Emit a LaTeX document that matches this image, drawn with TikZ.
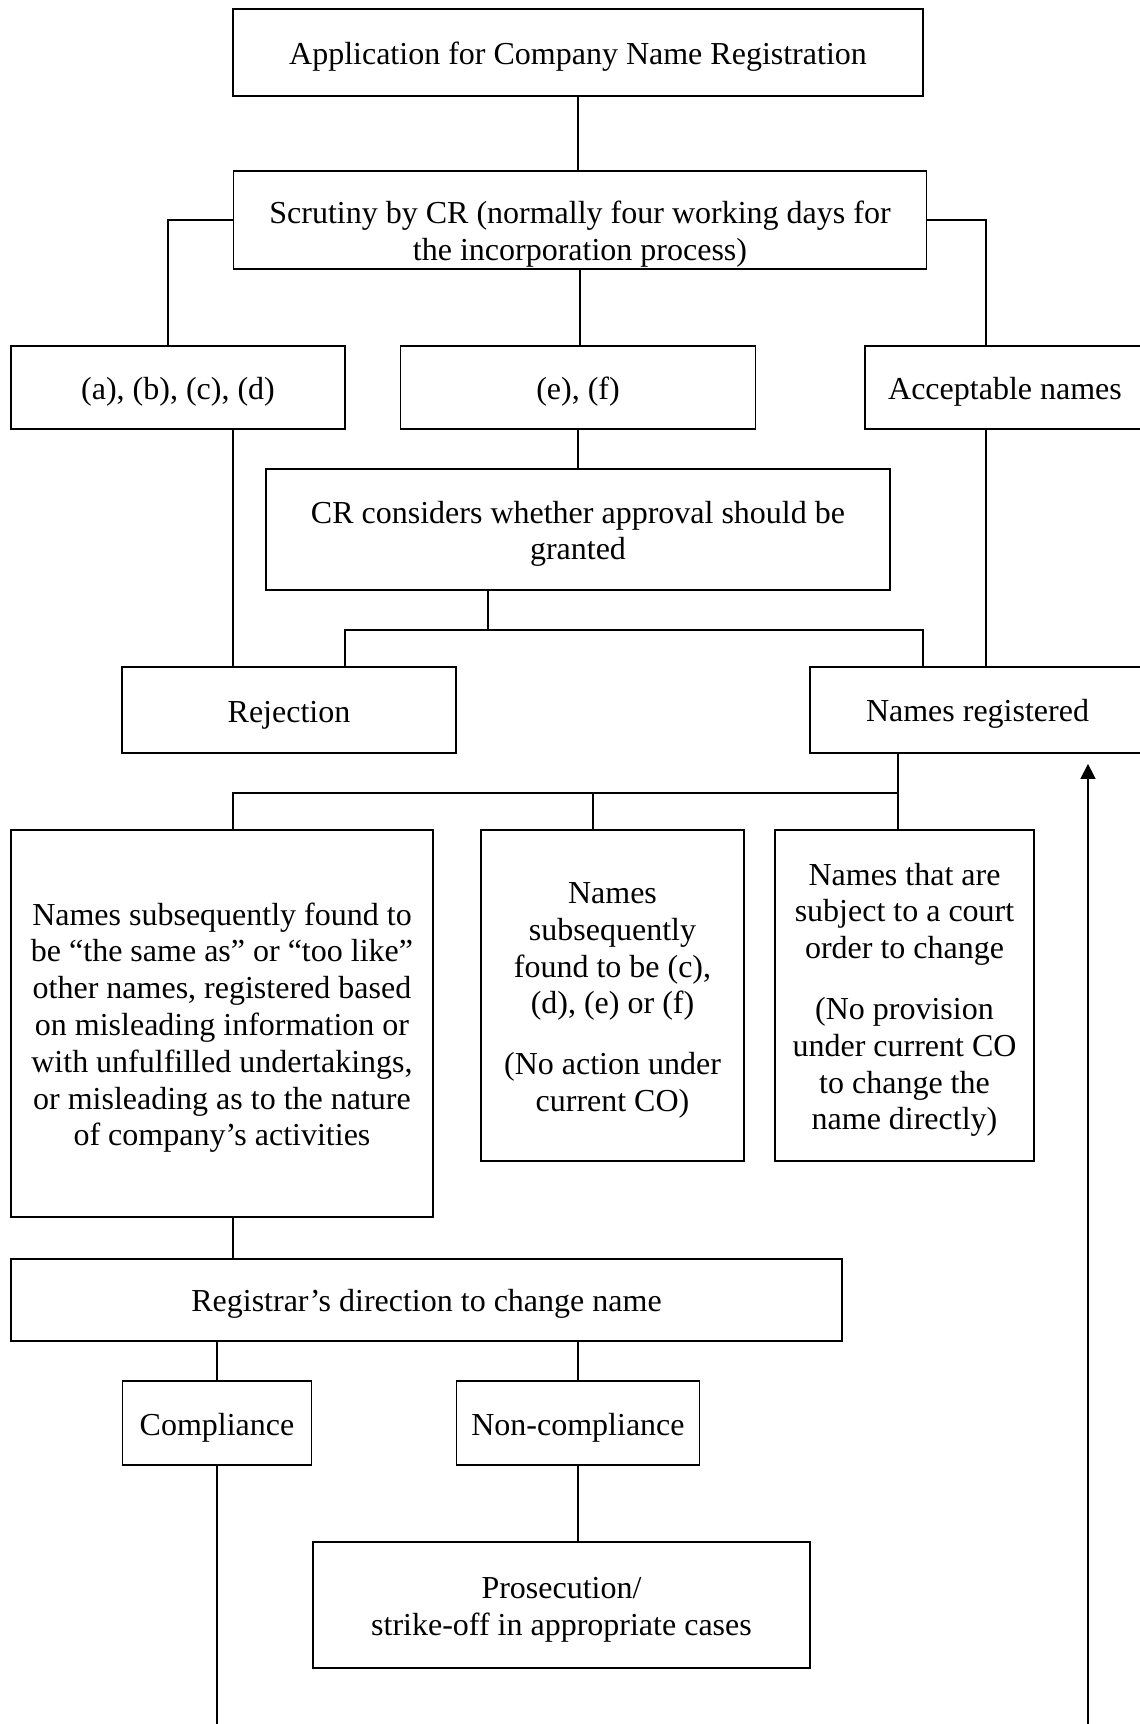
\documentclass[tikz,border=0pt]{standalone}
\usepackage{fontspec}
\setmainfont{Liberation Serif}
\usetikzlibrary{arrows.meta}
\newcommand{\topgap}{\rule{0pt}{15.4pt}}
\tikzset{
  box/.style={draw, line width=0.9pt, align=center, inner sep=0pt},
  txt/.style={align=center, inner sep=0pt},
  link/.style={line width=0.7pt},
}
\begin{document}
\begin{tikzpicture}[x=0.5pt, y=-0.5pt, >={Triangle[length=7.5pt,width=7.5pt]},
    font=\fontsize{16}{18.4}\selectfont, line join=miter]
    \useasboundingbox (0,0) rectangle (1140,1724);
    % upper part
    \node[box, minimum width=345pt, minimum height=43.5pt] (app) at (578,52.5) {\topgap Application for Company Name Registration};
    \node[box, minimum width=346.5pt, minimum height=49pt] (scr) at (580,220) {};
    \node[txt] (scrtxt) at (580,234.5) {Scrutiny by CR (normally four working days for\\the incorporation process)};
    \node[box, minimum width=167pt, minimum height=41.5pt] (abcd) at (178,387.5) {\topgap(a), (b), (c), (d)};
    \node[box, minimum width=177.5pt, minimum height=41.5pt] (ef) at (578,387.5) {\topgap(e), (f)};
    \node[box, minimum width=140pt, minimum height=41.5pt] (acc) at (1005,387.5) {\topgap Acceptable names};
    \node[box, minimum width=312pt, minimum height=60.5pt] (cr) at (578,529.5) {\topgap CR considers whether approval should be\\granted};
    \node[box, minimum width=167pt, minimum height=43pt] (rej) at (289,710) {\topgap Rejection};
    \node[box, minimum width=167.5pt, minimum height=43pt] (reg) at (977.5,710) {\topgap Names registered};
    % after registration
    \node[box, minimum width=211pt, minimum height=193.5pt] (A) at (222,1023.5) {\topgap Names subsequently found to\\be “the same as” or “too like”\\other names, registered based\\on misleading information or\\with unfulfilled undertakings,\\or misleading as to the nature\\of company’s activities};
    \node[box, minimum width=131.5pt, minimum height=165.5pt] (B) at (612.5,995.5) {\topgap Names\\subsequently\\found to be (c),\\(d), (e) or (f)\\[12pt](No action under\\current CO)};
    \node[box, minimum width=129.5pt, minimum height=165.5pt] (C) at (904.5,995.5) {\topgap Names that are\\subject to a court\\order to change\\[12pt](No provision\\under current CO\\to change the\\name directly)};
    \node[box, minimum width=415.5pt, minimum height=41pt] (dir) at (426.5,1300) {\topgap Registrar’s direction to change name};
    \node[box, minimum width=94.5pt, minimum height=42pt] (comp) at (217,1423) {\topgap Compliance};
    \node[box, minimum width=121.5pt, minimum height=42pt] (non) at (578,1423) {\topgap Non-compliance};
    \node[box, minimum width=248.5pt, minimum height=63pt] (pros) at (561.5,1605) {\topgap Prosecution/\\strike-off in appropriate cases};
    \coordinate (crjoin) at (488,630);
    \coordinate (regjoin) at (898,793);
    \coordinate (endl) at (217,1724);
    \coordinate (endr) at (1088,1724);
    % connectors
    \draw[link] (app.south) -- (app.south |- scr.north);
    \draw[link] (scr.west) -| ([xshift=-5pt]abcd.north);
    \draw[link] (scr.east) -| ([xshift=-9.5pt]acc.north);
    \draw[link] (scr.south) -- (scr.south |- ef.north);
    \draw[link] (ef.south) -- (ef.south |- cr.north);
    \draw[link] ([xshift=27.5pt]abcd.south) -- ([xshift=27.5pt]abcd.south |- rej.north);
    \draw[link] ([xshift=-9.5pt]acc.south) -- ([xshift=-9.5pt]acc.south |- reg.north);
    \draw[link] (cr.south -| crjoin) -- (crjoin);
    \draw[link] ([xshift=28pt]rej.north) |- (crjoin) -| ([xshift=-27.25pt]reg.north);
    \draw[link] ([xshift=-39.75pt]reg.south) -- ([xshift=-39.75pt]reg.south |- C.north);
    \draw[link] ([xshift=5.5pt]A.north) |- (regjoin);
    \draw[link] ([xshift=-9.75pt]B.north) -- ([xshift=-9.75pt]B.north |- regjoin);
    \draw[link] ([xshift=5.5pt]A.south) -- ([xshift=5.5pt]A.south |- dir.north);
    \draw[link] (comp.north |- dir.south) -- (comp.north);
    \draw[link] (non.north |- dir.south) -- (non.north);
    \draw[link] (non.south) -- (non.south |- pros.north);
    \draw[link] (comp.south) -- (comp.south |- endl);
    \draw[link, ->, shorten >=5pt] (endr) -- (endr |- reg.south);
\end{tikzpicture}
\end{document}
